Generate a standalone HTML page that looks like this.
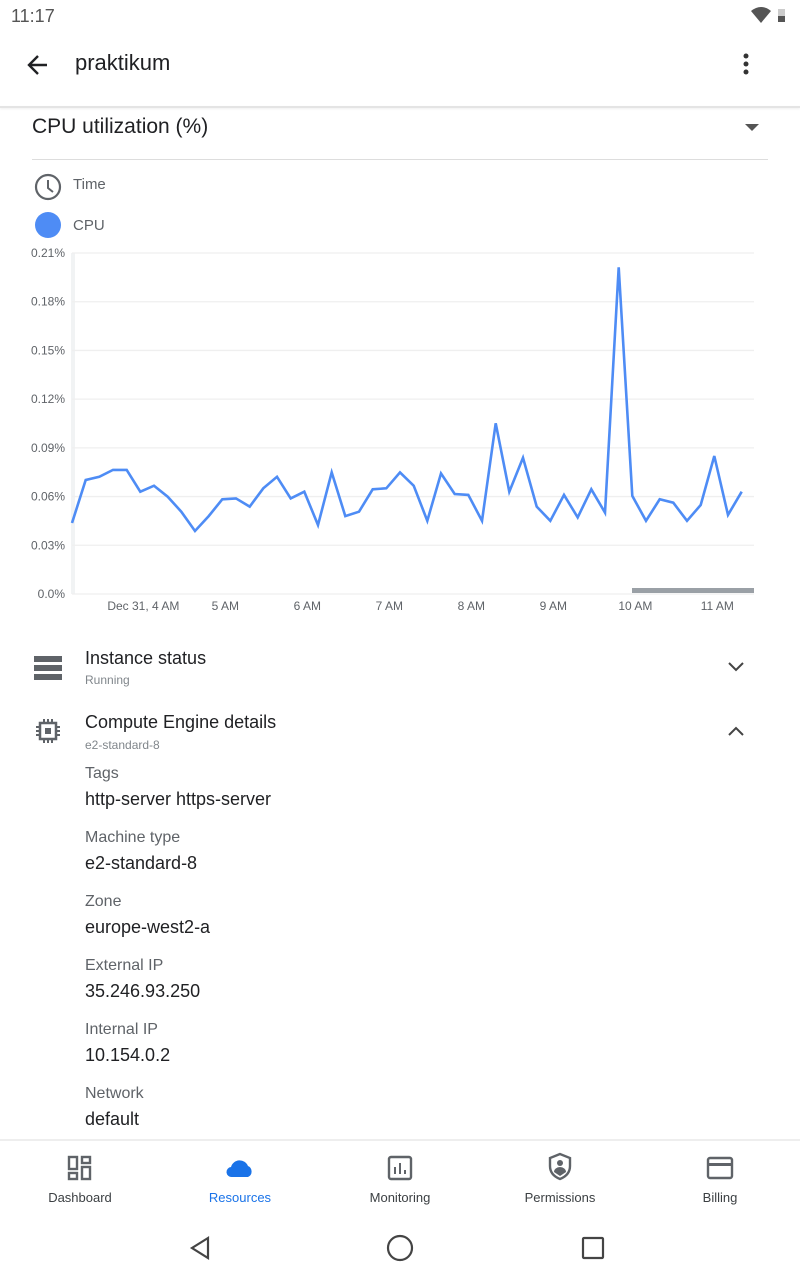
<!DOCTYPE html>
<html><head><meta charset="utf-8"><style>
*{margin:0;padding:0;box-sizing:border-box}
body{width:800px;height:1280px;background:#fff;font-family:"Liberation Sans",sans-serif;position:relative;overflow:hidden;color:#202124}
.a{position:absolute;white-space:nowrap}
.lab{font-size:16px;color:#5f6368}
.val{font-size:18px;color:#202124}
.nav{position:absolute;top:1190px;font-size:13px;color:#3c4043;text-align:center;width:120px}
</style></head><body>
<div class="a" style="left:11px;top:6px;font-size:18px;color:#555">11:17</div>
<svg class="a" style="left:750px;top:5px" width="40" height="20"><path d="M1 6 Q11 -2 21 6 L11 18Z" fill="#555"/><rect x="28" y="4" width="7" height="13" fill="#ccc"/><rect x="28" y="11" width="7" height="6" fill="#555"/></svg>
<svg class="a" style="left:25px;top:52px" width="26" height="26"><path d="M22 13H5M13 4L4 13l9 9" stroke="#202124" stroke-width="2.4" fill="none"/></svg>
<div class="a" style="left:75px;top:50px;font-size:22px">praktikum</div>
<svg class="a" style="left:740px;top:52px" width="12" height="26"><circle cx="6" cy="4" r="2.5" fill="#333"/><circle cx="6" cy="12" r="2.5" fill="#333"/><circle cx="6" cy="20" r="2.5" fill="#333"/></svg>
<div class="a" style="left:0;top:106px;width:800px;height:2px;background:#e4e4e4;box-shadow:0 1px 2px #eee"></div>
<div class="a" style="left:32px;top:115px;font-size:21px">CPU utilization (%)</div>
<svg class="a" style="left:744px;top:123px" width="16" height="10"><path d="M1 1h14L8 8z" fill="#555"/></svg>
<div class="a" style="left:32px;top:159px;width:736px;height:1px;background:#ddd"></div>
<svg class="a" style="left:34px;top:173px" width="28" height="28"><circle cx="14" cy="14" r="12" stroke="#5f6368" stroke-width="2.2" fill="none"/><path d="M14 7v8l5 4" stroke="#5f6368" stroke-width="2" fill="none"/></svg>
<div class="a lab" style="left:73px;top:176px;font-size:15px">Time</div>
<div class="a" style="left:35px;top:212px;width:26px;height:26px;border-radius:50%;background:#4e8cf5"></div>
<div class="a lab" style="left:73px;top:217px;font-size:15px">CPU</div>

<svg id="chart" class="a" style="left:0;top:240px" width="800" height="380"></svg>

<svg class="a" style="left:34px;top:656px" width="28" height="24"><rect x="0" y="0" width="28" height="6" fill="#5f6368"/><rect x="0" y="9" width="28" height="6" fill="#5f6368"/><rect x="0" y="18" width="28" height="6" fill="#5f6368"/></svg>
<div class="a" style="left:85px;top:648px;font-size:18px">Instance status</div>
<div class="a" style="left:85px;top:673px;font-size:12px;color:#80868b">Running</div>
<svg class="a" style="left:727px;top:661px" width="18" height="12"><path d="M2 2l7 7 7-7" stroke="#444" stroke-width="2" fill="none"/></svg>
<svg class="a" style="left:35px;top:718px" width="26" height="26"><rect x="5" y="5" width="16" height="16" stroke="#5f6368" stroke-width="2.5" fill="none"/><rect x="10" y="10" width="6" height="6" fill="#5f6368"/><path d="M9 1v4M13 1v4M17 1v4M9 21v4M13 21v4M17 21v4M1 9h4M1 13h4M1 17h4M21 9h4M21 13h4M21 17h4" stroke="#5f6368" stroke-width="2"/></svg>
<div class="a" style="left:85px;top:712px;font-size:18px">Compute Engine details</div>
<div class="a" style="left:85px;top:738px;font-size:12px;color:#80868b">e2-standard-8</div>
<svg class="a" style="left:727px;top:725px" width="18" height="12"><path d="M2 10l7-7 7 7" stroke="#444" stroke-width="2" fill="none"/></svg>

<div class="a lab" style="left:85px;top:765px">Tags</div>
<div class="a val" style="left:85px;top:789px">http-server https-server</div>
<div class="a lab" style="left:85px;top:829px">Machine type</div>
<div class="a val" style="left:85px;top:853px">e2-standard-8</div>
<div class="a lab" style="left:85px;top:893px">Zone</div>
<div class="a val" style="left:85px;top:917px">europe-west2-a</div>
<div class="a lab" style="left:85px;top:957px">External IP</div>
<div class="a val" style="left:85px;top:981px">35.246.93.250</div>
<div class="a lab" style="left:85px;top:1021px">Internal IP</div>
<div class="a val" style="left:85px;top:1045px">10.154.0.2</div>
<div class="a lab" style="left:85px;top:1085px">Network</div>
<div class="a val" style="left:85px;top:1109px">default</div>

<div class="a" style="left:0;top:1139px;width:800px;height:2px;background:#eee"></div>
<svg class="a" style="left:67px;top:1155px" width="26" height="26"><g fill="none" stroke="#5f6368" stroke-width="2.4"><rect x="2" y="2" width="8" height="12"/><rect x="15" y="2" width="8" height="6"/><rect x="2" y="18" width="8" height="6"/><rect x="15" y="12" width="8" height="12"/></g></svg>
<div class="nav" style="left:20px">Dashboard</div>
<svg class="a" style="left:226px;top:1157px" width="28" height="22"><path d="M6 20a5 5 0 0 1-1-10 9 9 0 0 1 17-1 6 6 0 0 1 0 11z" fill="#1a73e8"/></svg>
<div class="nav" style="left:180px;color:#1a73e8">Resources</div>
<svg class="a" style="left:387px;top:1155px" width="26" height="26"><rect x="2" y="2" width="22" height="22" rx="2" stroke="#5f6368" stroke-width="2.4" fill="none"/><path d="M8 19v-7M13 19v-11M18 19v-4" stroke="#5f6368" stroke-width="2"/></svg>
<div class="nav" style="left:340px">Monitoring</div>
<svg class="a" style="left:547px;top:1152px" width="26" height="30"><path d="M13 2L3 6v8c0 7 5 11 10 13 5-2 10-6 10-13V6z" stroke="#5f6368" stroke-width="2.4" fill="none"/><circle cx="13" cy="11" r="3" fill="#5f6368"/><path d="M7 20a6 5 0 0 1 12 0l-6 4z" fill="#5f6368"/></svg>
<div class="nav" style="left:500px">Permissions</div>
<svg class="a" style="left:706px;top:1156px" width="28" height="24"><rect x="2" y="2" width="24" height="20" rx="2" stroke="#5f6368" stroke-width="2.4" fill="none"/><rect x="2" y="7" width="24" height="3" fill="#5f6368"/></svg>
<div class="nav" style="left:660px">Billing</div>

<svg class="a" style="left:188px;top:1236px" width="26" height="24"><path d="M20 2L4 12l16 10z" stroke="#444" stroke-width="2.2" fill="none"/></svg>
<svg class="a" style="left:386px;top:1234px" width="28" height="28"><circle cx="14" cy="14" r="12" stroke="#444" stroke-width="2.2" fill="none"/></svg>
<svg class="a" style="left:581px;top:1236px" width="24" height="24"><rect x="2" y="2" width="20" height="20" rx="1" stroke="#444" stroke-width="2.2" fill="none"/></svg>

<script>
const cpuValues=[0.0437,0.0702,0.0722,0.0764,0.0764,0.0630,0.0667,0.0599,0.0507,0.0388,0.0480,0.0583,0.0589,0.0538,0.0651,0.0722,0.0589,0.0630,0.0425,0.0749,0.0480,0.0507,0.0645,0.0651,0.0749,0.0667,0.0451,0.0743,0.0616,0.0610,0.0451,0.1051,0.0630,0.0839,0.0538,0.0451,0.0610,0.0472,0.0645,0.0501,0.2012,0.0604,0.0451,0.0583,0.0562,0.0451,0.0548,0.0850,0.0487,0.0630];
const yTicks=[0,0.03,0.06,0.09,0.12,0.15,0.18,0.21];
const yTickLabels=["0.0%","0.03%","0.06%","0.09%","0.12%","0.15%","0.18%","0.21%"];
const xTickHours=[0,1,2,3,4,5,6,7];
const xTickLabels=["Dec 31, 4 AM","5 AM","6 AM","7 AM","8 AM","9 AM","10 AM","11 AM"];
const startOffsetMin=-52.2, stepMin=10;
const svg=document.getElementById('chart');
const NS='http://www.w3.org/2000/svg';
const X0=72,X1=754,Y0=354,Y1=13;
const yS=v=>Y0-(v/0.21)*(Y0-Y1);
const xS=m=>X0+(m-startOffsetMin)*82/60;
function mk(t,a){const e=document.createElementNS(NS,t);for(const k in a)e.setAttribute(k,a[k]);svg.appendChild(e);return e;}
const ax=mk('rect',{x:71,y:Y1,width:4,height:Y0-Y1,fill:'#f1f3f4'});


yTicks.forEach((v,i)=>{
  const g=mk('line',{x1:X0,x2:X1,y1:yS(v),y2:yS(v),stroke:'#efefef','stroke-width':1.3});
  
  
  const t=mk('text',{x:65,y:yS(v)+4,'text-anchor':'end','font-size':12,fill:'#5f6368','font-family':'Liberation Sans'});
  t.textContent=yTickLabels[i];
  
  
});
xTickHours.forEach((h,i)=>{
  const t=mk('text',{x:xS(h*60),y:370,'text-anchor':'middle','font-size':12,fill:'#5f6368','font-family':'Liberation Sans'});
  t.textContent=xTickLabels[i];
  
  
});
const sb=mk('rect',{x:632,y:348,width:122,height:5,fill:'#9aa0a6'});


const pts=cpuValues.map((v,i)=>xS(startOffsetMin+i*stepMin).toFixed(1)+','+yS(v).toFixed(1)).join(' ');
const line=mk('polyline',{points:pts,fill:'none',stroke:'#4e8cf5','stroke-width':2.6,'stroke-linejoin':'miter'});


</script>
</body></html>
